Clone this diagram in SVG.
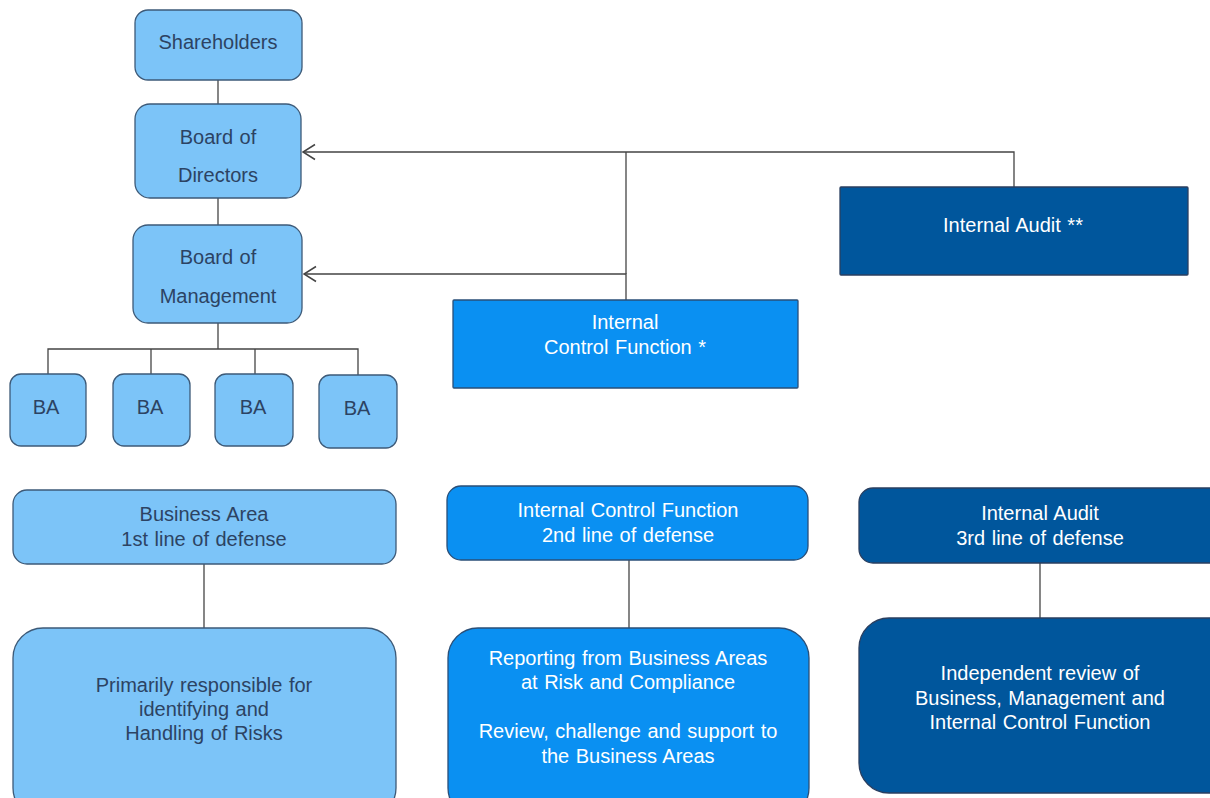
<svg xmlns="http://www.w3.org/2000/svg" width="1210" height="798" viewBox="0 0 1210 798">
<defs>
<style>
.lt{fill:#7cc4f8;stroke:#3d5a78;stroke-width:1.3}
.md{fill:#0a90f2;stroke:#2a4f78;stroke-width:1.3}
.dk{fill:#00569c;stroke:#2a3f60;stroke-width:1.3}
.ln{fill:none;stroke:#444;stroke-width:1.3}
text{font-family:"Liberation Sans",Arial,sans-serif;font-size:20px;text-anchor:middle;word-spacing:1px}
.tl{fill:#2c4363}
.tw{fill:#ffffff}
</style>
<marker id="arr" viewBox="0 0 14 18" refX="13" refY="9" markerWidth="14" markerHeight="18" markerUnits="userSpaceOnUse" orient="auto">
<path d="M1,1.5 L13,9 L1,16.5" fill="none" stroke="#444" stroke-width="1.5"/>
</marker>
</defs>
<rect width="1210" height="798" fill="#ffffff"/>
<g id="connectors">
<line class="ln" x1="218" y1="80" x2="218" y2="104"/>
<line class="ln" x1="218" y1="198" x2="218" y2="225"/>
<polyline class="ln" points="218,323 218,349"/>
<polyline class="ln" points="48,374 48,349 358,349 358,375"/>
<line class="ln" x1="151" y1="349" x2="151" y2="374"/>
<line class="ln" x1="255" y1="349" x2="255" y2="374"/>
<polyline class="ln" points="1014,187 1014,152 303,152" marker-end="url(#arr)"/>
<polyline class="ln" points="626,300 626,274 304,274" marker-end="url(#arr)"/>
<line class="ln" x1="626" y1="152" x2="626" y2="274"/>
<line class="ln" x1="204" y1="564" x2="204" y2="628"/>
<line class="ln" x1="629" y1="560" x2="629" y2="628"/>
<line class="ln" x1="1040" y1="563" x2="1040" y2="618"/>
</g>
<g id="shareholders"><rect class="lt" x="135" y="10" width="167" height="70" rx="13"/><text class="tl" x="218" y="49">Shareholders</text></g>
<g id="board-directors"><rect class="lt" x="135" y="104" width="166" height="94" rx="15"/><text class="tl" x="218" y="144">Board of</text><text class="tl" x="218" y="182">Directors</text></g>
<g id="board-management"><rect class="lt" x="133" y="225" width="169" height="98" rx="15"/><text class="tl" x="218" y="264">Board of</text><text class="tl" x="218" y="303">Management</text></g>
<g id="ba1"><rect class="lt" x="10" y="374" width="76" height="72" rx="11"/><text class="tl" x="46" y="414">BA</text></g>
<g id="ba2"><rect class="lt" x="113" y="374" width="77" height="72" rx="11"/><text class="tl" x="150" y="414">BA</text></g>
<g id="ba3"><rect class="lt" x="215" y="374" width="78" height="72" rx="11"/><text class="tl" x="253" y="414">BA</text></g>
<g id="ba4"><rect class="lt" x="319" y="375" width="78" height="73" rx="11"/><text class="tl" x="357" y="415">BA</text></g>
<g id="internal-audit"><rect class="dk" x="840" y="187" width="348" height="88" rx="1"/><text class="tw" x="1013" y="232">Internal Audit **</text></g>
<g id="internal-control"><rect class="md" x="453" y="300" width="345" height="88" rx="1"/><text class="tw" x="625" y="329">Internal</text><text class="tw" x="625" y="354">Control Function *</text></g>
<g id="business-area"><rect class="lt" x="13" y="490" width="383" height="74" rx="14"/><text class="tl" x="204" y="521">Business Area</text><text class="tl" x="204" y="546">1st line of defense</text></g>
<g id="business-area-desc"><rect class="lt" x="13" y="628" width="383" height="190" rx="30"/><text class="tl" x="204" y="692" word-spacing="5">Primarily responsible for</text><text class="tl" x="204" y="716">identifying and</text><text class="tl" x="204" y="740" word-spacing="3">Handling of Risks</text></g>
<g id="icf-2nd"><rect class="md" x="447" y="486" width="361" height="74" rx="14"/><text class="tw" x="628" y="517">Internal Control Function</text><text class="tw" x="628" y="542">2nd line of defense</text></g>
<g id="icf-desc"><rect class="md" x="448" y="628" width="361" height="190" rx="30"/><text class="tw" x="628" y="665" word-spacing="5">Reporting from Business Areas</text><text class="tw" x="628" y="689">at Risk and Compliance</text><text class="tw" x="628" y="738" word-spacing="2">Review, challenge and support to</text><text class="tw" x="628" y="763" word-spacing="3">the Business Areas</text></g>
<g id="ia-3rd"><rect class="dk" x="859" y="488" width="380" height="75" rx="14"/><text class="tw" x="1040" y="520">Internal Audit</text><text class="tw" x="1040" y="545">3rd line of defense</text></g>
<g id="ia-desc"><rect class="dk" x="859" y="618" width="380" height="175" rx="30"/><text class="tw" x="1040" y="680">Independent review of</text><text class="tw" x="1040" y="705">Business, Management and</text><text class="tw" x="1040" y="729">Internal Control Function</text></g>
</svg>
